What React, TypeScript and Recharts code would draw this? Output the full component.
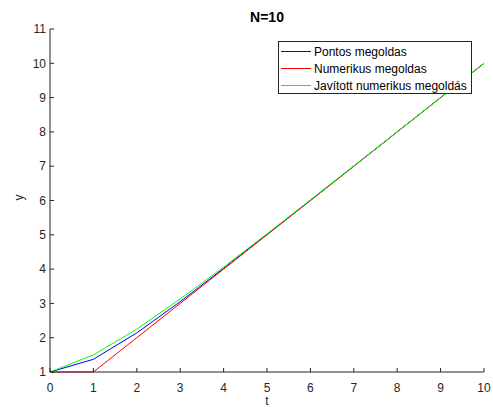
import { Legend, Line, LineChart, XAxis, YAxis } from 'recharts';

const tValues = [0, 1, 2, 3, 4, 5, 6, 7, 8, 9, 10];
const pontos = [1, 1.37, 2.14, 3.05, 4.02, 5.01, 6.0, 7.0, 8.0, 9.0, 10.0];
const numerikus = [1, 1, 2, 3, 4, 5, 6, 7, 8, 9, 10];
const javitott = [1, 1.5, 2.25, 3.13, 4.06, 5.03, 6.02, 7.01, 8.0, 9.0, 10.0];

const xTicks = [0, 1, 2, 3, 4, 5, 6, 7, 8, 9, 10];
const yTicks = [1, 2, 3, 4, 5, 6, 7, 8, 9, 10, 11];

const series = [
  { key: 'pontos', name: 'Pontos megoldas', color: '#0000ff' },
  { key: 'numerikus', name: 'Numerikus megoldas', color: '#ff0000' },
  { key: 'javitott', name: 'Javított numerikus megoldás', color: '#00ff00' },
];

const data = tValues.map((t, i) => ({ t, pontos: pontos[i], numerikus: numerikus[i], javitott: javitott[i] }));

const axisColor = '#262626';

// box axes (top / right) only need the inward tick marks, no labels
const NoLabel = () => <g />;

const LegendBox = () => (
  <div
    style={{
      boxSizing: 'border-box',
      width: 194,
      height: 53,
      border: `1px solid ${axisColor}`,
      background: '#fff',
      paddingTop: 1,
      fontSize: 12,
      color: '#000',
    }}
  >
    {series.map(s => (
      <div key={s.key} style={{ display: 'flex', alignItems: 'center', height: 17 }}>
        <span style={{ marginLeft: 2, width: 30, height: 0, borderTop: `1px solid ${s.color}` }} />
        <span style={{ marginLeft: 3, whiteSpace: 'nowrap' }}>{s.name}</span>
      </div>
    ))}
  </div>
);

export default function App() {
  return (
    <div style={{ position: 'absolute', left: 0, top: 0, width: 493, height: 407, fontFamily: '"Liberation Sans", Arial, sans-serif' }}>
      <div
        style={{
          position: 'absolute',
          left: 50,
          width: 434,
          top: 9,
          textAlign: 'center',
          fontSize: 14,
          fontWeight: 'bold',
          lineHeight: '16px',
          color: '#000',
        }}
      >
        N=10
      </div>
      <LineChart width={493} height={407} data={data} margin={{ top: 29, right: 9, bottom: 0, left: 0 }}>
        <XAxis
          dataKey='t'
          type='number'
          domain={[0, 10]}
          ticks={xTicks}
          interval={0}
          height={35}
          stroke={axisColor}
          tickSize={-4}
          tickMargin={15}
          tick={{ fill: axisColor, fontSize: 12 }}
          label={{ value: 't', position: 'insideBottom', offset: 2, fill: axisColor, fontSize: 12 }}
        />
        <XAxis
          xAxisId='top'
          orientation='top'
          dataKey='t'
          type='number'
          domain={[0, 10]}
          ticks={xTicks}
          interval={0}
          height={0}
          stroke={axisColor}
          tickSize={-4}
          tick={<NoLabel />}
        />
        <YAxis
          type='number'
          domain={[1, 11]}
          ticks={yTicks}
          interval={0}
          width={50}
          stroke={axisColor}
          tickSize={-4}
          tickMargin={8}
          tick={{ fill: axisColor, fontSize: 12 }}
          label={{ value: 'y', angle: -90, position: 'insideLeft', offset: 19, fill: axisColor, fontSize: 12 }}
        />
        <YAxis
          yAxisId='right'
          orientation='right'
          type='number'
          domain={[1, 11]}
          ticks={yTicks}
          interval={0}
          width={0}
          stroke={axisColor}
          tickSize={-4}
          tick={<NoLabel />}
        />
        {series.map(s => (
          <Line
            key={s.key}
            type='linear'
            dataKey={s.key}
            name={s.name}
            stroke={s.color}
            strokeWidth={1}
            dot={false}
            activeDot={false}
            isAnimationActive={false}
          />
        ))}
        <Legend
          layout='vertical'
          align='center'
          verticalAlign='middle'
          content={<LegendBox />}
          wrapperStyle={{ left: 278, top: 41, width: 194, height: 53 }}
        />
      </LineChart>
    </div>
  );
}
